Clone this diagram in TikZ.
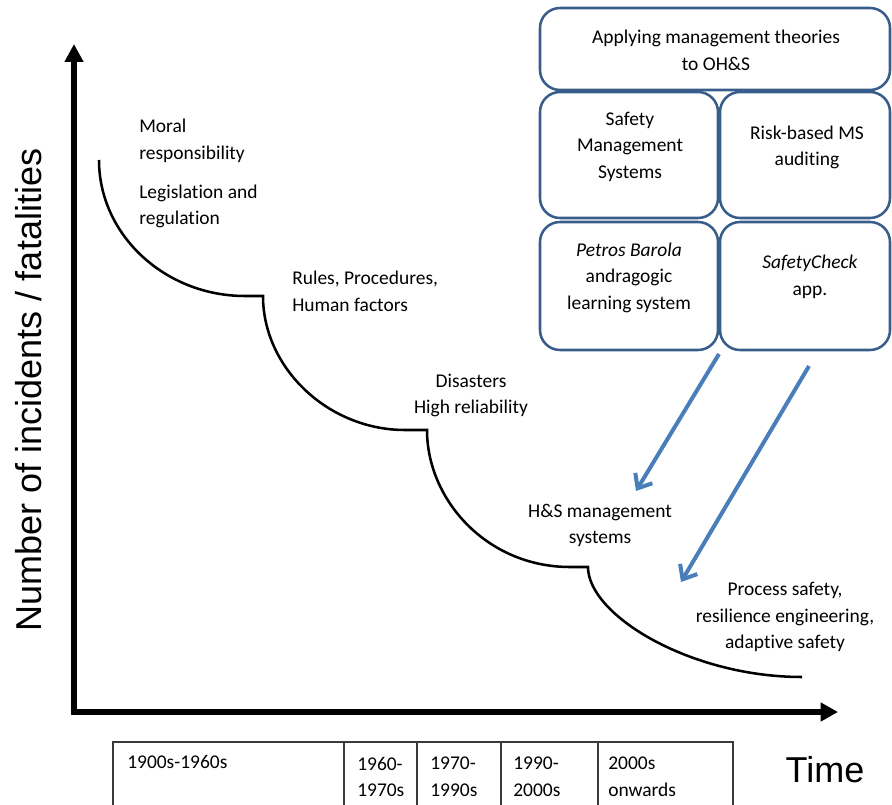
\documentclass[tikz,border=0pt]{standalone}
\usepackage{fontspec}
\setmainfont{Carlito}[Ligatures=NoCommon]
\newfontfamily\arialf{Liberation Sans}
\usetikzlibrary{arrows.meta}
\definecolor{boxblue}{HTML}{385D8A}
\definecolor{arrowblue}{HTML}{4A7EBB}
\definecolor{tablegray}{HTML}{3A3A3A}
\begin{document}
\begin{tikzpicture}[x=0.75pt,y=-0.75pt,
  lbl/.style={font=\fontsize{14.6}{20}\selectfont, inner sep=0pt, align=center},
  lbll/.style={lbl, align=left, anchor=west},
  boxnode/.style={draw=boxblue, line width=1.9pt, rounded corners=15pt, inner sep=0pt},
  axisline/.style={line width=4.2pt, line join=miter,
    {Triangle[length=13.5pt,width=13.5pt]}-{Triangle[length=13pt,width=13.5pt]}},
  curveline/.style={line width=1.9pt, black},
  bluearrow/.style={arrowblue, line width=3pt, -{Straight Barb[length=9pt,width=15pt]}},
  tableline/.style={tablegray, line width=1.1pt},
  bigtext/.style={font=\arialf\fontsize{27}{30}\selectfont, inner sep=0pt}]
\useasboundingbox (0,0) rectangle (892,805);

% axes
\coordinate (ytip) at (74,44);
\coordinate (origin) at (74,712);
\coordinate (xtip) at (838,712);
\draw[axisline] (ytip) -- (origin) -- (xtip);
\node[bigtext, rotate=90] (ylabel) at (28.5,390) {Number of incidents / fatalities};
\node[bigtext] (time) at (825,770) {Time};

% stepped curve
\draw[curveline] (99,160) .. controls (99,235) and (165,296) .. (245,296) -- (263,296)
  .. controls (263,368) and (328,430) .. (405,430) -- (427,430)
  .. controls (427,500) and (487,567) .. (570,567) -- (588,567)
  .. controls (588,615) and (690,677) .. (802,677);

% curve labels
\node[lbll] (moral) at (139,141) {Moral\\responsibility};
\node[lbll] (legis) at (139,206.5) {Legislation and\\regulation};
\node[lbll] (rules) at (292,291) {Rules, Procedures,\\Human factors};
\node[lbl] (disast) at (471,395.5) {Disasters\\High reliability};
\node[lbl] (hsms) at (600,525.5) {H\&S management\\systems};
\node[lbl] (proc) at (785,617) {Process safety,\\resilience engineering,\\adaptive safety};

% boxes
\node[boxnode, minimum width=262.5pt, minimum height=61.5pt] (topbox) at (715,49) {};
\node[boxnode, minimum width=133.5pt, minimum height=94.5pt] (smsbox) at (629,155) {};
\node[boxnode, minimum width=127.5pt, minimum height=94.5pt] (riskbox) at (805,155) {};
\node[boxnode, minimum width=133.5pt, minimum height=96pt] (petbox) at (629,286) {};
\node[boxnode, minimum width=127.5pt, minimum height=96pt] (appbox) at (805,286) {};

\node[lbl] (toptxt) at (716,50) {Applying management theories\\to OH\&S};
\node[lbl] (smstxt) at (630,146.7) {Safety\\Management\\Systems};
\node[lbl] (risktxt) at (807,147.5) {Risk-based MS\\auditing};
\node[lbl] (pettxt) at (629,277.7) {\textit{Petros Barola}\\andragogic\\learning system};
\node[lbl] (apptxt) at (810,276.5) {\textit{SafetyCheck}\\app.};

% blue arrows
\coordinate (a1s) at (719,354);
\coordinate (a1e) at (636,491);
\coordinate (a2s) at (809,366);
\coordinate (a2e) at (681,582);
\draw[bluearrow] (a1s) -- (a1e);
\draw[bluearrow] (a2s) -- (a2e);

% table
\coordinate (tbl) at (113,806);
\coordinate (ttl) at (113,742);
\coordinate (ttr) at (733,742);
\coordinate (tbr) at (733,806);
\draw[tableline] (tbl) -- (ttl) -- (ttr) -- (tbr);
\foreach \xx in {344,417,501,598} \draw[tableline] (\xx,742) -- (\xx,806);
\node[lbll] (c1) at (127,762) {1900s-1960s};
\node[lbll] (c2) at (357,777) {1960-\\1970s};
\node[lbll] (c3) at (430,777) {1970-\\1990s};
\node[lbll] (c4) at (513,777) {1990-\\2000s};
\node[lbll] (c5) at (608,777) {2000s\\onwards};
\end{tikzpicture}
\end{document}
